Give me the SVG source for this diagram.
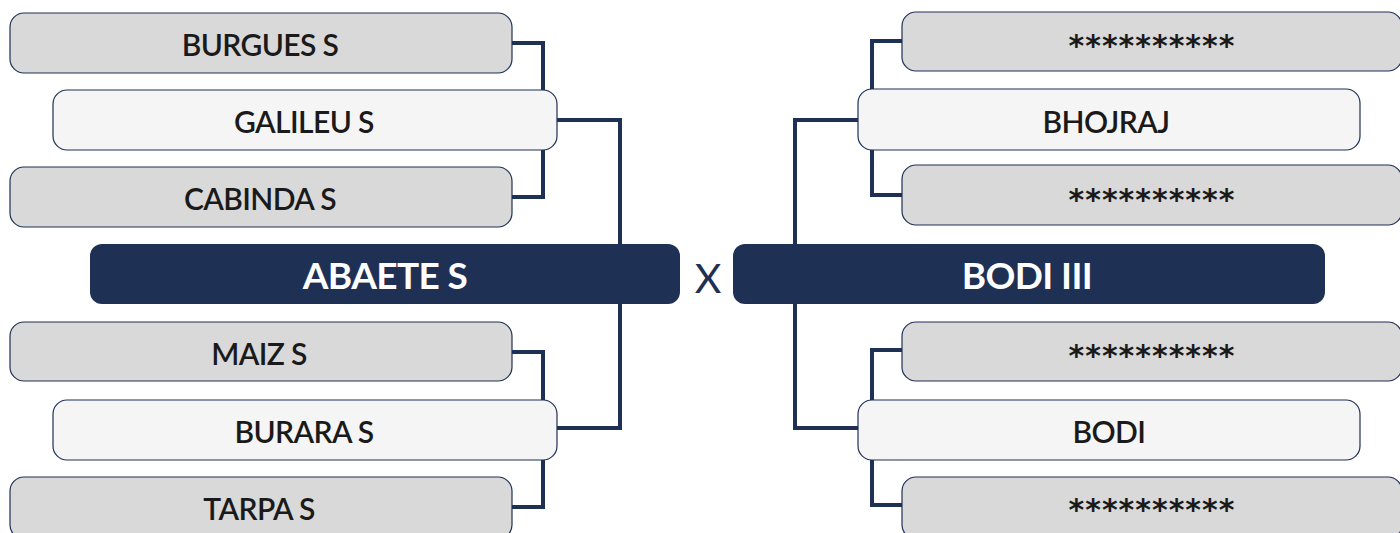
<svg xmlns="http://www.w3.org/2000/svg" width="1400" height="533" viewBox="0 0 1400 533">
<style>
.g{fill:#d9d9d9;stroke:#1e3155;stroke-width:1.2}
.l{fill:#f5f5f5;stroke:#1e3155;stroke-width:1.2}
.d{fill:#1e3155}
.t{font-family:Lato,"Open Sans",sans-serif;font-weight:600;font-size:30px;fill:#1a1a1a;text-anchor:middle;letter-spacing:-0.6px}
.a{font-family:"DejaVu Sans",sans-serif;font-weight:700;font-size:30px;fill:#1a1a1a;text-anchor:middle;letter-spacing:1px}
.w{font-family:Lato,"Open Sans",sans-serif;font-weight:700;font-size:37px;fill:#ffffff;text-anchor:middle;letter-spacing:-0.6px}
.c{fill:none;stroke:#1e3155;stroke-width:4}
</style>
<rect width="1400" height="533" fill="#ffffff"/>
<g id="connectors" class="c">
<polyline points="512,43 543,43 543,90"/>
<polyline points="543,150 543,197 512,197"/>
<polyline points="557,120 620,120 620,244"/>
<polyline points="620,304 620,428 557,428"/>
<polyline points="512,352 543,352 543,400"/>
<polyline points="543,460 543,507 512,507"/>
<polyline points="902,41 872,41 872,90"/>
<polyline points="872,150 872,195 902,195"/>
<polyline points="858,120 795,120 795,244"/>
<polyline points="795,304 795,428 858,428"/>
<polyline points="902,350 872,350 872,400"/>
<polyline points="872,460 872,505 902,505"/>
</g>
<g id="burgues"><rect class="g" x="10" y="13" width="502" height="60" rx="14"/><text class="t" x="260" y="56">BURGUES S</text></g>
<g id="galileu"><rect class="l" x="53" y="90" width="504" height="60" rx="14"/><text class="t" x="304" y="133">GALILEU S</text></g>
<g id="cabinda"><rect class="g" x="10" y="167" width="502" height="60" rx="14"/><text class="t" x="260" y="210">CABINDA S</text></g>
<g id="abaete"><rect class="d" x="90" y="244" width="590" height="60" rx="12"/><text class="w" x="385" y="289">ABAETE S</text></g>
<g id="maiz"><rect class="g" x="10" y="322" width="502" height="59" rx="14"/><text class="t" x="259" y="365">MAIZ S</text></g>
<g id="burara"><rect class="l" x="53" y="400" width="504" height="60" rx="14"/><text class="t" x="304" y="443">BURARA S</text></g>
<g id="tarpa"><rect class="g" x="10" y="477" width="502" height="62" rx="14"/><text class="t" x="259" y="520">TARPA S</text></g>
<g id="vs"><text x="708" y="293" font-family="Lato,'Open Sans',sans-serif" font-size="41" fill="#1e3155" text-anchor="middle">X</text></g>
<g id="r1"><rect class="g" x="902" y="12" width="500" height="59" rx="14"/><text class="a" x="1152" y="56">**********</text></g>
<g id="bhojraj"><rect class="l" x="858" y="89" width="502" height="61" rx="14"/><text class="t" x="1106" y="133">BHOJRAJ</text></g>
<g id="r2"><rect class="g" x="902" y="165" width="500" height="60" rx="14"/><text class="a" x="1152" y="210">**********</text></g>
<g id="bodi3"><rect class="d" x="733" y="244" width="592" height="60" rx="12"/><text class="w" x="1027" y="289">BODI III</text></g>
<g id="r3"><rect class="g" x="902" y="322" width="500" height="59" rx="14"/><text class="a" x="1152" y="366">**********</text></g>
<g id="bodi"><rect class="l" x="858" y="400" width="502" height="60" rx="14"/><text class="t" x="1109" y="443">BODI</text></g>
<g id="r4"><rect class="g" x="902" y="477" width="500" height="62" rx="14"/><text class="a" x="1152" y="520">**********</text></g>
</svg>
